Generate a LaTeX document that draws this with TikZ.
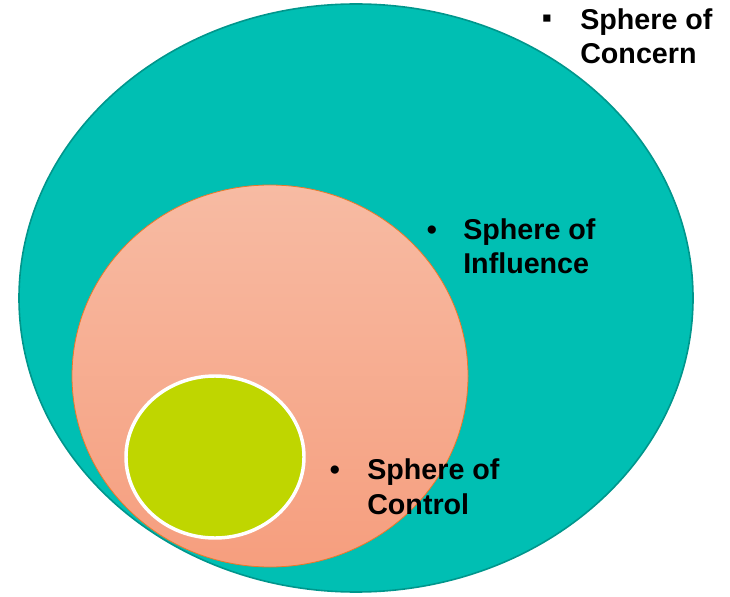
\documentclass[tikz,border=0pt]{standalone}
\usepackage{fontspec}
\setmainfont{Liberation Sans}
\definecolor{concernfill}{RGB}{0,191,179}
\definecolor{concernline}{RGB}{0,150,140}
\definecolor{influencetop}{RGB}{247,187,163}
\definecolor{influencebot}{RGB}{246,158,126}
\definecolor{influenceline}{RGB}{236,120,40}
\definecolor{controlfill}{RGB}{191,214,0}
\tikzset{sphtext/.style={anchor=base west, inner sep=0pt, align=left,
    font=\fontsize{21.5}{26}\selectfont\bfseries},
  sphmark/.style={inner sep=0pt, font=\fontsize{21.5}{24}\selectfont\bfseries}}

\begin{document}
\begin{tikzpicture}[x=0.75pt,y=0.75pt]
\useasboundingbox (0,0) rectangle (730,596);
% the three spheres
\draw [concernline, line width=1.2pt, fill=concernfill] (356,298) ellipse (337 and 294);
\draw [influenceline, line width=0.6pt, top color=influencetop, bottom color=influencebot] (270,220) ellipse (198 and 191);
\draw [white, line width=2.6pt, fill=controlfill] (215,139) ellipse (89 and 81);
% labels (anchored on the second line)
\node [sphmark] (mconcern) at (547,575) {▪};
\node [sphtext] (concern) at (580,532) {Sphere of\\Concern};
\node [sphmark] (minfluence) at (432,363) {•};
\node [sphtext] (influence) at (463,322) {Sphere of\\Influence};
\node [sphmark] (mcontrol) at (335,123) {•};
\node [sphtext] (control) at (367,82) {Sphere of\\Control};
\end{tikzpicture}
\end{document}
